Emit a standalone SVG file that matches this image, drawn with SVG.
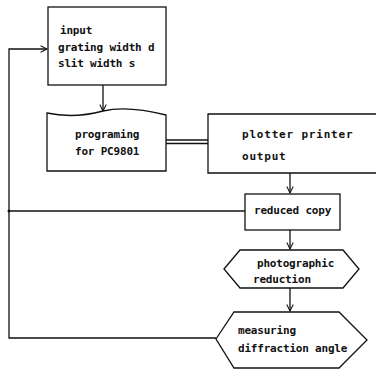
<svg xmlns="http://www.w3.org/2000/svg" width="376" height="370" viewBox="0 0 376 370">
<defs>
<marker id="arr" viewBox="0 0 10 10" refX="9" refY="5" markerWidth="8" markerHeight="8" markerUnits="userSpaceOnUse" orient="auto">
<polyline points="1,1 9,5 1,9" fill="none" stroke="#111" stroke-width="1.3"/>
</marker>
<style>
.s{fill:#fff;stroke:#111;stroke-width:1.3}
.c{fill:none;stroke:#111;stroke-width:1.3}
text{font-family:"DejaVu Sans Mono","Liberation Mono",monospace;font-size:11px;font-weight:bold;fill:#111;letter-spacing:-0.2px}
.w{letter-spacing:0.8px}
</style>
</defs>
<rect width="376" height="370" fill="#fff"/>
<g id="connectors">
<polyline class="c" points="216,338 9,338 9,49 47,49" marker-end="url(#arr)"/>
<line class="c" x1="9" y1="211" x2="245" y2="211"/>
<circle cx="9" cy="211" r="1.5" fill="#111"/>
<line class="c" x1="103" y1="85" x2="103" y2="111" marker-end="url(#arr)"/>
<line class="c" x1="166" y1="140" x2="208" y2="140"/>
<line class="c" x1="166" y1="143.5" x2="208" y2="143.5"/>
<line class="c" x1="290" y1="173" x2="290" y2="193" marker-end="url(#arr)"/>
<line class="c" x1="290" y1="230" x2="290" y2="249" marker-end="url(#arr)"/>
<line class="c" x1="290" y1="288" x2="290" y2="311" marker-end="url(#arr)"/>
</g>
<g id="input">
<rect class="s" x="48" y="7" width="118" height="78"/>
<text x="60" y="34">input</text>
<text x="58" y="51">grating width d</text>
<text x="58" y="67">slit width s</text>
</g>
<g id="programing">
<path class="s" d="M47,113 C70,118 88,115 103,111 C125,106 150,111 166,115 V171 H47 Z"/>
<text x="75" y="138">programing</text>
<text x="75" y="155">for PC9801</text>
</g>
<g id="plotter">
<path class="s" d="M377,114 H208 V173 H377"/>
<text class="w" x="242" y="138">plotter printer</text>
<text class="w" x="242" y="160">output</text>
</g>
<g id="reduced">
<rect class="s" x="245" y="194" width="95" height="36"/>
<text x="254" y="214">reduced copy</text>
</g>
<g id="photographic">
<polygon class="s" points="224,269 240,250 343,250 359,269 343,288 240,288"/>
<text x="257" y="267">photographic</text>
<text x="253" y="283">reduction</text>
</g>
<g id="measuring">
<polygon class="s" points="216,339 234,312 339,312 367,340 339,368 234,368"/>
<text x="238" y="334">measuring</text>
<text x="238" y="352">diffraction angle</text>
</g>
</svg>
